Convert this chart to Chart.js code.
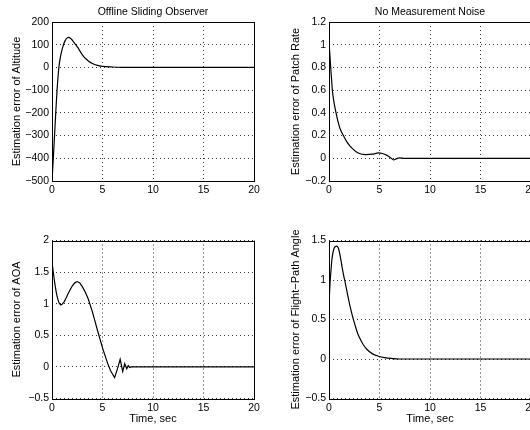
<!DOCTYPE html>
<html>
<head>
<meta charset="utf-8">
<script src="https://cdn.jsdelivr.net/npm/chart.js@4.4.1/dist/chart.umd.min.js"></script>
<style>
  html, body { margin: 0; padding: 0; background: #fff; overflow: hidden; }
  body { width: 530px; height: 430px; position: relative; }
  canvas { position: absolute; }
</style>
</head>
<body>
<canvas id="altChart" width="265" height="215" style="left:0;top:0"></canvas>
<canvas id="rateChart" width="265" height="215" style="left:277px;top:0"></canvas>
<canvas id="aoaChart" width="265" height="215" style="left:0;top:215px"></canvas>
<canvas id="fpaChart" width="265" height="215" style="left:277px;top:215px"></canvas>
<script>
// aikapisteet (s) ja estimointivirheet luettu kuvasta
const tAlt = [0, 0.13, 0.25, 0.37, 0.5, 0.6, 0.68, 0.8, 0.95, 1.1, 1.3, 1.5, 1.65, 1.85, 2.1, 2.35, 2.6, 2.85, 3.1, 3.35, 3.6, 4.0, 4.5, 5.0, 6.0, 7.0, 8.0, 20];
const altErr = [-500, -400, -300, -200, -100, -40, 0, 38, 70, 95, 118, 130, 132, 127, 115, 100, 85, 66, 50, 38, 28, 17, 9, 5, 2, 0.5, 0, 0];

const tRate = [0, 0.08, 0.17, 0.25, 0.33, 0.5, 0.7, 0.9, 1.1, 1.43, 1.8, 2.27, 2.9, 3.6, 4.3, 4.9, 5.3, 5.7, 6.1, 6.4, 6.7, 7.0, 7.5, 20];
const rateErr = [1.04, 0.92, 0.8, 0.7, 0.6, 0.49, 0.4, 0.32, 0.26, 0.2, 0.14, 0.09, 0.047, 0.032, 0.036, 0.047, 0.042, 0.028, 0.005, -0.015, -0.003, 0.003, 0, 0];

const tAoa = [0, 0.1, 0.2, 0.3, 0.4, 0.5, 0.6, 0.7, 0.86, 1.0, 1.2, 1.4, 1.6, 1.8, 2.0, 2.25, 2.5, 2.75, 3.0, 3.3, 3.6, 4.0, 4.5, 5.0, 5.5, 5.8, 6.2, 6.5, 6.75, 7.0, 7.2, 7.4, 7.55, 7.7, 7.85, 20];
const aoaErr = [1.67, 1.53, 1.41, 1.3, 1.2, 1.12, 1.06, 1.01, 0.98, 0.99, 1.03, 1.09, 1.16, 1.22, 1.28, 1.33, 1.35, 1.33, 1.27, 1.18, 1.07, 0.87, 0.58, 0.3, 0.06, -0.06, -0.17, -0.02, 0.12, -0.07, 0.05, -0.03, 0.02, -0.01, 0, 0];

const tFpa = [0, 0.1, 0.2, 0.3, 0.45, 0.6, 0.77, 0.9, 1.0, 1.1, 1.2, 1.3, 1.45, 1.6, 1.85, 2.1, 2.35, 2.6, 2.85, 3.1, 3.4, 3.77, 4.3, 4.9, 5.5, 6.2, 7, 20];
const fpaErr = [0.7, 0.95, 1.13, 1.27, 1.38, 1.42, 1.43, 1.41, 1.37, 1.31, 1.24, 1.16, 1.06, 0.97, 0.81, 0.66, 0.53, 0.42, 0.32, 0.25, 0.18, 0.12, 0.065, 0.035, 0.018, 0.007, 0, 0];

const xTicks = { min: 0, max: 20, step: 5 };

Chart.defaults.font.family = "'Liberation Sans', Arial, Helvetica, sans-serif";
Chart.defaults.color = "#000";

// laatikko kuvaajan ympärille (MATLAB-tyyli)
const boxPlugin = {
  id: "box",
  afterDraw(chart) {
    const a = chart.chartArea;
    const ctx = chart.ctx;
    ctx.save();
    ctx.strokeStyle = "#000";
    ctx.lineWidth = 1;
    const l = Math.round(a.left) + 0.5, t = Math.round(a.top) + 0.5;
    const r = Math.round(a.right) + 0.5, b = Math.round(a.bottom) + 0.5;
    ctx.strokeRect(l, t, r - l, b - t);
    ctx.restore();
  },
};

function fmt(v) {
  return String(Math.round(v * 10) / 10).replace("-", "\u2212");
}

function piirra(id, times, values, o) {
  const ctx = document.getElementById(id).getContext("2d");
  const pts = times.map((t, i) => ({ x: t, y: values[i] }));
  return new Chart(ctx, {
    type: "line",
    data: {
      datasets: [{
        data: pts,
        borderColor: "#000",
        borderWidth: 1.2,
        pointRadius: 0,
        fill: false,
        tension: o.tension,
        cubicInterpolationMode: o.mono ? "monotone" : "default",
      }],
    },
    plugins: [boxPlugin],
    options: {
      responsive: false,
      animation: false,
      events: [],
      devicePixelRatio: 1,
      layout: { padding: { left: 0, right: 11, top: o.top, bottom: 0 } },
      plugins: {
        legend: { display: false },
        tooltip: { enabled: false },
        title: {
          display: !!o.title,
          text: o.title || "",
          fullSize: false,
          font: { size: 10.5, weight: "normal" },
          padding: { top: 5.7, bottom: 3.7 },
        },
      },
      scales: {
        x: {
          type: "linear",
          min: xTicks.min,
          max: xTicks.max,
          ticks: { stepSize: xTicks.step, padding: 3, maxRotation: 0, autoSkip: false, font: { size: 10.5 }, callback: fmt },
          grid: { color: "rgba(0,0,0,0.8)", lineWidth: 1, drawTicks: false },
          border: { display: false, dash: [1, 3] },
          title: {
            display: !!o.xTitle,
            text: o.xTitle || "",
            font: { size: 11 },
            padding: { top: 0, bottom: 4.4 },
          },
          afterFit(s) { s.height = o.xh; s.paddingLeft = 0; s.paddingRight = 0; },
        },
        y: {
          min: o.ymin,
          max: o.ymax,
          ticks: { stepSize: o.ystep, padding: 3, autoSkip: false, font: { size: 10.5 }, callback: fmt },
          grid: { color: "rgba(0,0,0,0.8)", lineWidth: 1, drawTicks: false },
          border: { display: false, dash: [1, 3] },
          title: {
            display: true,
            text: o.yTitle,
            font: { size: 11 },
            padding: { top: o.ytp, bottom: 0 },
          },
          afterFit(s) { s.width = 52; s.paddingTop = 0; s.paddingBottom = 0; },
        },
      },
    },
  });
}

piirra("altChart", tAlt, altErr, {
  title: "Offline Sliding Observer", yTitle: "Estimation error of Altitude",
  ymin: -500, ymax: 200, ystep: 100, top: 0, xh: 34, ytp: 10.4, tension: 0, mono: true,
});
piirra("rateChart", tRate, rateErr, {
  title: "No Measurement Noise", yTitle: "Estimation error of Patch Rate",
  ymin: -0.2, ymax: 1.2, ystep: 0.2, top: 0, xh: 34, ytp: 12, tension: 0, mono: true,
});
piirra("aoaChart", tAoa, aoaErr, {
  xTitle: "Time, sec", yTitle: "Estimation error of AOA",
  ymin: -0.5, ymax: 2, ystep: 0.5, top: 25.5, xh: 31.5, ytp: 10.4, tension: 0, mono: false,
});
piirra("fpaChart", tFpa, fpaErr, {
  xTitle: "Time, sec", yTitle: "Estimation error of Flight\u2212Path Angle",
  ymin: -0.5, ymax: 1.5, ystep: 0.5, top: 25.5, xh: 31.5, ytp: 12, tension: 0, mono: true,
});
</script>
</body>
</html>
